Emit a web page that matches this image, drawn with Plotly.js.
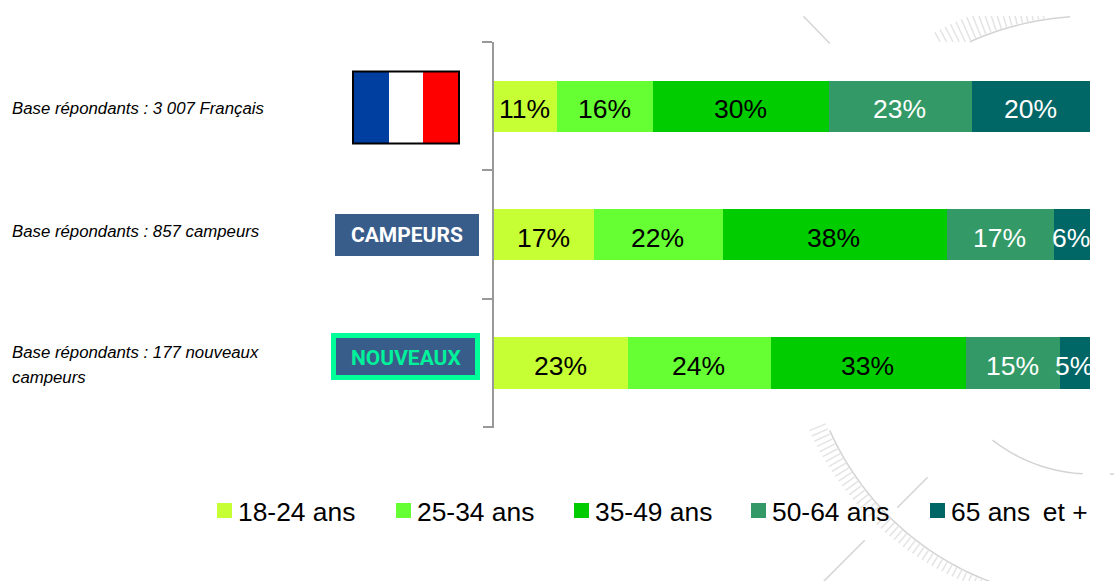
<!DOCTYPE html>
<html><head><meta charset="utf-8">
<script src="https://cdn.plot.ly/plotly-3.0.1.min.js"></script>
<style>html,body{margin:0;padding:0;background:#fff}#c{width:1114px;height:581px}</style>
</head><body><div id="c"></div>
<script>
const categories = ["Français", "Campeurs", "Nouveaux campeurs"];
const seriesNames = ["18-24 ans", "25-34 ans", "35-49 ans", "50-64 ans", "65 ans\u2009 et +"];
const seriesColors = ["#c6ff33", "#66ff33", "#00cc00", "#339966", "#006666"];
const labelColors = ["#000000", "#000000", "#000000", "#ffffff", "#ffffff"];
const s1824 = [10.6, 16.8, 22.5];
const s2534 = [16.1, 21.6, 24.0];
const s3549 = [29.5, 37.6, 32.7];
const s5064 = [24.0, 18.0, 15.8];
const s65 = [19.8, 6.0, 5.0];
const labels1824 = ["11%", "17%", "23%"];
const labels2534 = ["16%", "22%", "24%"];
const labels3549 = ["30%", "38%", "33%"];
const labels5064 = ["23%", "17%", "15%"];
const labels65 = ["20%", "6%", "5%"];
const baseTexts = ["Base répondants : 3 007 Français", "Base répondants : 857 campeurs", "Base répondants : 177 nouveaux", "campeurs"];
const baseY = [108, 231, 352, 377];
const legendMarkerX = [217, 396, 574, 751, 930];

const series = [s1824, s2534, s3549, s5064, s65];
const seriesLabels = [labels1824, labels2534, labels3549, labels5064, labels65];

const W = 1114, H = 581, L = 494, R = 1090, T = 42, B = 427;
const px = x => (x - L) / (R - L);
const py = y => 1 - (y - T) / (B - T);
const FONT = '"Liberation Sans", Arial, sans-serif';

const traces = series.map((vals, i) => ({
  type: 'bar', orientation: 'h', name: seriesNames[i], x: vals, y: categories,
  marker: {color: seriesColors[i], line: {width: 0}}, hoverinfo: 'x+name'
}));

const annotations = [];
const textAt = (x, y, text, size, color, anchor, family) => annotations.push({
  xref: 'paper', yref: 'paper', x: px(x), y: py(y), text, showarrow: false, borderpad: 0, borderwidth: 0,
  xanchor: anchor, yanchor: 'middle', align: 'left', font: {family: family || FONT, size, color}
});

// value labels, placed through the data axes
categories.forEach((cat, r) => {
  let acc = 0;
  series.forEach((vals, i) => {
    annotations.push({
      xref: 'x', yref: 'y', x: acc + vals[r] / 2, y: cat, text: seriesLabels[i][r],
      showarrow: false, yshift: -3, xshift: -1, borderpad: 0, xanchor: 'center', yanchor: 'middle',
      font: {family: FONT, size: 26.5, color: labelColors[i]}
    });
    acc += vals[r];
  });
});

baseTexts.forEach((t, i) => textAt(12, baseY[i], '<i>' + t + '</i>', 16.8, '#000000', 'left'));
textAt(406.5, 235, '<b>CAMPEURS</b>', 21, '#ffffff', 'center', 'Roboto, sans-serif');
textAt(405.5, 358, '<b>NOUVEAUX</b>', 21, '#00f29b', 'center', 'Roboto, sans-serif');

const rect = (x0, y0, x1, y1, fill, line, lw) => ({
  type: 'rect', xref: 'paper', yref: 'paper', x0: px(x0), x1: px(x1), y0: py(y0), y1: py(y1),
  fillcolor: fill, line: {color: line || fill, width: lw || 0}, layer: 'above'
});
const shapes = [];
// flag
shapes.push(rect(354, 72, 389, 143, '#003f9f'));
shapes.push(rect(389, 72, 423, 143, '#ffffff'));
shapes.push(rect(423, 72, 458, 143, '#ff0000'));
shapes.push(rect(353, 71.5, 459, 143.5, 'rgba(0,0,0,0)', '#000000', 2));
// badges
shapes.push(rect(335, 214, 479, 256, '#385d8a'));
shapes.push(rect(333.5, 335.5, 477.5, 377.5, '#385d8a', '#00ff99', 5));
// closing tick of the bracket
shapes.push({type: 'line', xref: 'paper', yref: 'paper', x0: px(483), x1: px(494), y0: py(427), y1: py(427), line: {color: '#999999', width: 2}, layer: 'above'});
// legend
seriesNames.forEach((n, i) => {
  shapes.push(rect(legendMarkerX[i], 503, legendMarkerX[i] + 15, 518, seriesColors[i]));
  textAt(legendMarkerX[i] + 20.5, 512, n, 26.4, '#000000', 'left');
});

// faint background watermark, concentric around one centre
const CX = 1091, CY = 314;
const polar = (r, deg) => [CX + r * Math.cos(deg * Math.PI / 180), CY + r * Math.sin(deg * Math.PI / 180)];
const pt = p => px(p[0]).toFixed(5) + ',' + py(p[1]).toFixed(5);
const arc = (r, a0, a1) => {
  let d = '';
  for (let a = a0; a <= a1 + 1e-6; a += 1) d += (d ? 'L' : 'M') + pt(polar(r, a));
  return d;
};
const seg = (r0, r1, a) => 'M' + pt(polar(r0, a)) + 'L' + pt(polar(r1, a));
const deco = (path, color, width) => shapes.push({type: 'path', xref: 'paper', yref: 'paper', path, line: {color, width}, layer: 'below'});
// big lower arc + hatching
deco(arc(286, 108, 156), '#d4d4d4', 1.5);
let hatch = '';
for (let a = 108; a <= 158; a += 1.1) hatch += seg(287, 287 + 8 + (a - 108) * 0.2, a);
deco(hatch, '#e4e4e4', 1.5);
// inner lower arc
deco(arc(160, 93, 128), '#d4d4d4', 1.5);
deco('M' + pt([1110, 474]) + 'L' + pt([1114, 474]), '#d4d4d4', 1.5);
// upper arc + hatching
deco(arc(298, 246, 266), '#d4d4d4', 1.5);
let hatch2 = '';
for (let a = 241; a <= 261; a += 1.05) {
  const p0 = polar(299, a), p1 = polar(322, a);
  const clip = y => {
    const k = (y - p0[1]) / (p1[1] - p0[1]);
    return [p0[0] + (p1[0] - p0[0]) * k, y];
  };
  const a0 = p0[1] > 42 ? clip(42) : p0;
  const a1 = p1[1] < 16 ? clip(16) : p1;
  if (a0[1] > a1[1]) hatch2 += 'M' + pt(a0) + 'L' + pt(a1);
}
deco(hatch2, '#e4e4e4', 1.5);
// radial strokes
deco(seg(376, 414, 226), '#d4d4d4', 1.5);
deco(seg(231, 274, 135), '#d4d4d4', 1.5);
deco(seg(320, 378, 135), '#d4d4d4', 1.5);

const layout = {
  width: W, height: H, autosize: false,
  margin: {l: L, r: W - R, t: T, b: H - B, pad: 0},
  barmode: 'stack', bargap: 0.6, showlegend: false,
  paper_bgcolor: '#ffffff', plot_bgcolor: 'rgba(0,0,0,0)',
  xaxis: {range: [0, 100], visible: false, fixedrange: true},
  yaxis: {
    type: 'category', autorange: 'reversed', showticklabels: false, showgrid: false, zeroline: false,
    showline: true, linecolor: '#999999', linewidth: 2,
    ticks: 'outside', ticklen: 10, tickwidth: 2, tickcolor: '#999999', tickson: 'boundaries', fixedrange: true
  },
  annotations, shapes
};
Plotly.newPlot('c', traces, layout, {displayModeBar: false, responsive: false});
</script></body></html>
